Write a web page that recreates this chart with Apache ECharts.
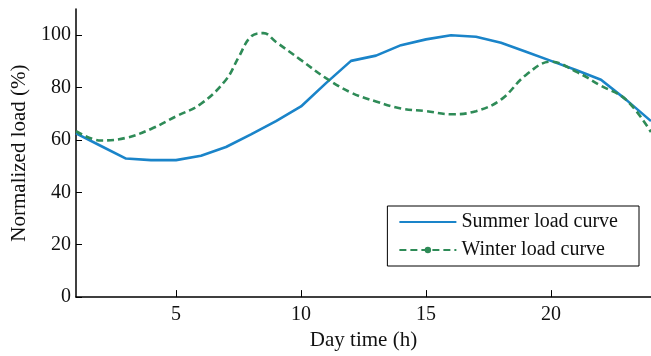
<!DOCTYPE html>
<html>
<head>
<meta charset="utf-8">
<script src="https://cdn.jsdelivr.net/npm/echarts@6/dist/echarts.min.js"></script>
<style>html,body{margin:0;padding:0;background:#fff;}#c{width:651px;height:356px;}</style>
</head>
<body>
<div id="c"></div>
<script>
const summerHours = [1,2,3,4,5,6,7,8,9,10,11,12,13,14,15,16,17,18,19,20,21,22,23,24];
const summer = [62.5,57.7,52.9,52.3,52.3,54.0,57.3,62.1,67.2,72.8,81.7,90.2,92.2,96.2,98.4,100.0,99.4,97.1,93.7,90.2,86.7,83.0,75.4,67.2];
const winterHours = [1,2,3,4,5,6,7,7.5,8,8.5,9,10,11,12,13,14,15,16,17,18,19,20,21,22,23,24];
const winter = [63.4,59.8,60.8,64.2,69.0,73.8,83.0,91.5,99.5,100.8,97.4,90.5,83.6,78.1,74.7,72.0,71.0,69.8,71.0,75.4,84.8,89.9,86.1,80.7,75.4,63.0];
const xTicks = [5,10,15,20];
const yTicks = [0,20,40,60,80,100];
const seriesNames = ['Summer load curve','Winter load curve'];

const font = 'Liberation Serif, Times New Roman, serif';
const chart = echarts.init(document.getElementById('c'));
chart.setOption({
  animation: false,
  grid: {left: 76, right: 0, top: 9, bottom: 56},
  legend: {
    right: 12, top: 206,
    orient: 'vertical',
    backgroundColor: '#fff',
    borderColor: '#000', borderWidth: 1, borderRadius: 0,
    padding: [6, 21, 6, 11],
    itemWidth: 57, itemHeight: 8, itemGap: 8,
    textStyle: {fontFamily: font, fontSize: 20, color: '#111', lineHeight: 20},
    data: [
      {name: seriesNames[0], itemStyle: {opacity: 0}},
      {name: seriesNames[1]}
    ]
  },
  xAxis: {
    type: 'value', min: 1, max: 24,
    name: 'Day time (h)', nameLocation: 'middle', nameGap: 26,
    nameTextStyle: {fontFamily: font, fontSize: 21, color: '#111'},
    splitLine: {show: false},
    axisLine: {lineStyle: {color: '#000', width: 1.5}},
    axisTick: {inside: true, length: 7, lineStyle: {color: '#000'}, customValues: xTicks},
    axisLabel: {fontFamily: font, fontSize: 20, color: '#111', margin: 8, customValues: xTicks}
  },
  yAxis: {
    type: 'value', min: 0, max: 110,
    name: 'Normalized load (%)', nameLocation: 'middle', nameGap: 46,
    nameTextStyle: {fontFamily: font, fontSize: 21, color: '#111'},
    splitLine: {show: false},
    axisLine: {show: true, lineStyle: {color: '#000', width: 1.5}},
    axisTick: {show: true, inside: true, length: 6, lineStyle: {color: '#000'}, customValues: yTicks},
    axisLabel: {fontFamily: font, fontSize: 20, color: '#111', margin: 5, customValues: yTicks}
  },
  series: [
    {
      name: seriesNames[0], type: 'line',
      data: summerHours.map((h, i) => [h, summer[i]]),
      symbol: 'none',
      lineStyle: {color: '#1a84c9', width: 2.6},
      itemStyle: {color: '#1a84c9'}
    },
    {
      name: seriesNames[1], type: 'line',
      data: winterHours.map((h, i) => [h, winter[i]]),
      smooth: 0.4,
      symbol: 'circle', symbolSize: 8, showSymbol: false,
      lineStyle: {color: '#2e8b57', width: 2.6, type: [7, 4]},
      itemStyle: {color: '#2e8b57'}
    }
  ]
});
</script>
</body>
</html>
